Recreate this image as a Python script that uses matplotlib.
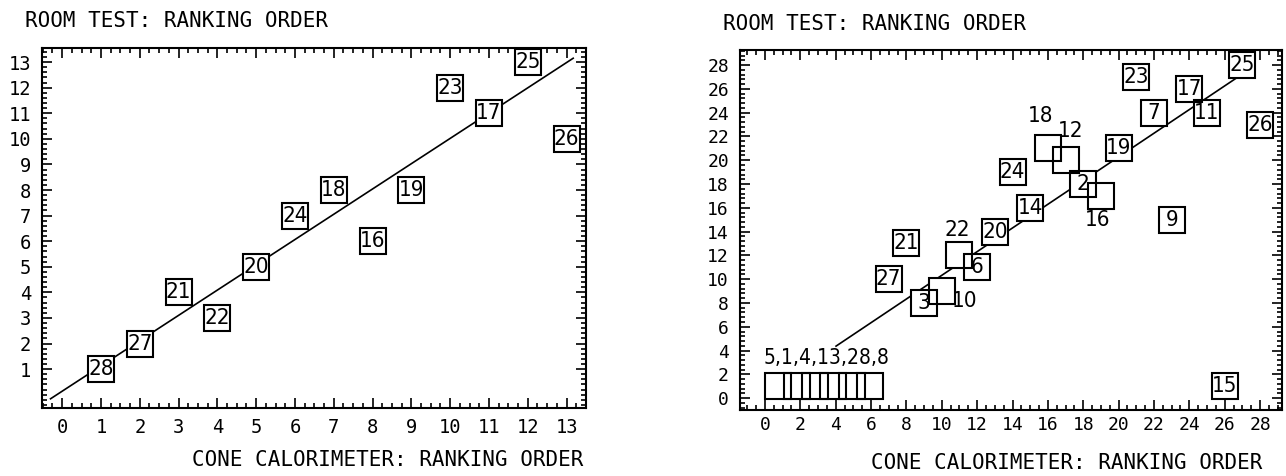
#importe as bibliotecas
import matplotlib
matplotlib.use('Agg')
import matplotlib.pyplot as plt
from matplotlib import font_manager
from matplotlib.font_manager import FontProperties
from matplotlib.ticker import MultipleLocator

# dados lidos do grafico original
# painel esquerdo: 13 materiais
left_labels = ['28', '27', '21', '22', '20', '24', '18', '16', '19', '23', '17', '25', '26']
left_cone = [1, 2, 3, 4, 5, 6, 7, 8, 9, 10, 11, 12, 13]
left_room = [1, 2, 4, 3, 5, 7, 8, 6, 8, 12, 11, 13, 10]
left_line_x = [-0.3, 13.17]
left_line_y = [-0.16, 13.15]

# painel direito: 28 materiais
right_labels = ['21', '27', '3', '6', '20', '14', '24', '2', '19', '9', '7', '23', '17', '11', '25', '26', '15']
right_cone = [8, 7, 9, 12, 13, 15, 14, 18, 20, 23, 22, 21, 24, 25, 27, 28, 26]
right_room = [13, 10, 8, 11, 14, 16, 19, 18, 21, 15, 24, 27, 26, 24, 28, 23, 1]

# caixas vazias com rotulo ao lado
open_labels = ['10', '22', '18', '12', '16']
open_cone = [10, 11, 16, 17, 19]
open_room = [9, 12, 21, 20, 17]
open_offsets = [(1.3, -0.8), (-0.15, 2.1), (-0.4, 2.7), (0.3, 2.45), (-0.2, -2.0)]

# grupo empatado embaixo
group_label = '5,1,4,13,28,8'
group_cone = [0.75, 1.8, 2.85, 3.85, 4.9, 5.95]
group_room = [1, 1, 1, 1, 1, 1]
group_text_pos = (3.48, 3.36)

right_line_x = [4.02, 26.75]
right_line_y = [4.37, 27.0]

title_txt = 'ROOM TEST: RANKING ORDER'
xlabel_txt = 'CONE CALORIMETER: RANKING ORDER'

mono = 'DejaVu Sans Mono'

# procura uma fonte estreita (parecida com a do plotter), senao usa DejaVu Sans
narrow_file = None
for f in font_manager.fontManager.ttflist:
    nm = f.name.lower()
    if f.style == 'normal' and f.weight in (400, 'normal', 'regular'):
        if 'narrow' in nm or 'condensed' in nm or f.stretch in ('condensed', 'semi-condensed'):
            if 'mono' not in nm:
                narrow_file = f.fname
                break
if narrow_file:
    box_fp = FontProperties(fname=narrow_file, size=16)
    grp_fp = FontProperties(fname=narrow_file, size=15)
else:
    box_fp = FontProperties(family='DejaVu Sans', size=13)
    grp_fp = FontProperties(family='DejaVu Sans', size=12)

W, H = 1286, 476
fig = plt.figure(figsize=(W / 100, H / 100), dpi=100)


def style_axes(ax, xmaj, xmin, ymaj, ymin, xpad):
    for s in ax.spines.values():
        s.set_linewidth(1.5)
    ax.xaxis.set_major_locator(MultipleLocator(xmaj))
    ax.xaxis.set_minor_locator(MultipleLocator(xmin))
    ax.yaxis.set_major_locator(MultipleLocator(ymaj))
    ax.yaxis.set_minor_locator(MultipleLocator(ymin))
    ax.tick_params(which='both', direction='in', top=True, right=True, width=1.2)
    ax.tick_params(which='major', length=7)
    ax.tick_params(which='minor', length=3.5)
    ax.tick_params(axis='y', pad=8)
    ax.tick_params(axis='x', pad=xpad)


def boxes(ax, x, y, hollow=False):
    ms = 18.7
    if not hollow:
        ax.plot(x, y, 's', ms=ms, mfc='white', mec='none', ls='none', zorder=2)
    ax.plot(x, y, 's', ms=ms, mfc='none', mec='black', mew=1.5, ls='none', zorder=3)


# ---------------- painel esquerdo ----------------
ax1 = fig.add_axes([42 / W, 1 - 408 / H, 544 / W, 360 / H])
ax1.plot(left_line_x, left_line_y, color='black', lw=1.2, zorder=1)
boxes(ax1, left_cone, left_room)
for lab, x, y in zip(left_labels, left_cone, left_room):
    ax1.text(x, y, lab, ha='center', va='center', fontproperties=box_fp, zorder=4)
ax1.set_xlim(-0.52, 13.5)
ax1.set_ylim(-0.52, 13.55)
style_axes(ax1, 1, 0.25, 1, 0.2, 7)
ax1.set_xticks(range(0, 14))
ax1.set_yticks(range(1, 14))
ax1.set_yticklabels([str(v) for v in range(1, 14)], family=mono, fontsize=13.5)
ax1.set_xticklabels([str(v) for v in range(0, 14)], family=mono, fontsize=13.5)

# ---------------- painel direito ----------------
ax2 = fig.add_axes([740 / W, 1 - 410 / H, 542 / W, 360 / H])
ax2.plot(right_line_x, right_line_y, color='black', lw=1.2, zorder=1)
boxes(ax2, right_cone, right_room)
boxes(ax2, open_cone, open_room)
boxes(ax2, group_cone, group_room, hollow=True)
for lab, x, y in zip(right_labels, right_cone, right_room):
    ax2.text(x, y, lab, ha='center', va='center', fontproperties=box_fp, zorder=4)
for lab, x, y, off in zip(open_labels, open_cone, open_room, open_offsets):
    ax2.text(x + off[0], y + off[1], lab, ha='center', va='center', fontproperties=box_fp, zorder=4)
ax2.text(group_text_pos[0], group_text_pos[1], group_label, ha='center', va='center',
         fontproperties=grp_fp, zorder=4)
ax2.set_xlim(-1.41, 29.24)
ax2.set_ylim(-1.0, 29.27)
style_axes(ax2, 2, 0.5, 2, 0.4, 4)
ax2.set_xticks(range(0, 29, 2))
ax2.set_yticks(range(0, 29, 2))
ax2.set_xticklabels([str(v) for v in range(0, 29, 2)], family=mono, fontsize=13)
ax2.set_yticklabels([str(v) for v in range(0, 29, 2)], family=mono, fontsize=13)

# titulos e rotulos dos eixos
fig.text(25 / W, 1 - 21 / H, title_txt, family=mono, fontsize=15, ha='left', va='center')
fig.text(723 / W, 1 - 24 / H, title_txt, family=mono, fontsize=15, ha='left', va='center')
fig.text(583 / W, 1 - 460 / H, xlabel_txt, family=mono, fontsize=15, ha='right', va='center')
fig.text(1262 / W, 1 - 463 / H, xlabel_txt, family=mono, fontsize=15, ha='right', va='center')

fig.savefig('out.png', dpi=100)
